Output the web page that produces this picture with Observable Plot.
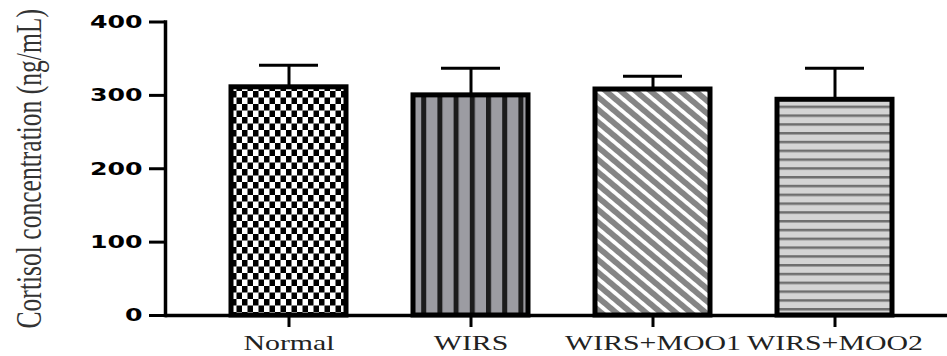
<!DOCTYPE html>
<html><head><meta charset="utf-8">
<script src="https://cdn.jsdelivr.net/npm/d3@7"></script>
<script src="https://cdn.jsdelivr.net/npm/@observablehq/plot@0.6"></script>
<style>body{margin:0;background:#fff} svg{display:block}</style>
</head><body><div id="chart"></div>
<script>
const groups = ["Normal", "WIRS", "WIRS+MOO1", "WIRS+MOO2"];
const means = [311, 300, 308, 294];
const errors = [30, 37, 18, 43];
const patterns = ["url(#pat-checker)", "url(#pat-vstripe)", "url(#pat-diag)", "url(#pat-hstripe)"];
const yTicks = [0, 100, 200, 300, 400];
const yTitle = "Cortisol concentration (ng/mL)";

const data = groups.map((g, i) => ({group: g, mean: means[i], upper: means[i] + errors[i], fill: patterns[i]}));

const chart = Plot.plot({
  width: 947, height: 356,
  marginLeft: 165, marginRight: 0, marginTop: 21.5, marginBottom: 41,
  style: {background: "white"},
  x: {domain: groups, range: [229.5, 892.5], paddingInner: 0.3705, paddingOuter: 0, label: null},
  y: {domain: [0, 400], label: null},
  color: {type: "identity"},
  marks: [
    Plot.barY(data, {x: "group", y: "mean", fill: "fill", stroke: "black", strokeWidth: 5}),
    Plot.ruleX(data, {x: "group", y1: "mean", y2: "upper", stroke: "black", strokeWidth: 3}),
    Plot.tickY(data, {x: "group", y: "upper", stroke: "black", strokeWidth: 3, insetLeft: 28, insetRight: 28}),
    Plot.ruleY([0], {stroke: "black", strokeWidth: 3.5}),
    Plot.frame({anchor: "left", stroke: "black", strokeWidth: 3.5}),
    Plot.axisY({ticks: yTicks, tickSize: 16, tickPadding: 7, tickFormat: d => String(d), fontSize: 18, fontWeight: "bold", fontFamily: "DejaVu Sans", fill: "black", strokeWidth: 3, label: null}),
    Plot.axisX({tickSize: 12, tickPadding: 8, fontSize: 21, fontFamily: "Liberation Serif", fill: "#222", strokeWidth: 3, label: null}),
    Plot.text([yTitle], {text: d => d, frameAnchor: "left", dx: -136, rotate: -90, fontSize: 36, fontFamily: "Liberation Serif", fill: "#333", lineAnchor: "middle", textAnchor: "middle"})
  ]
});

document.getElementById("chart").appendChild(chart);
const svg = d3.select(chart);
svg.insert("defs", ":first-child").html(`
  <pattern id="pat-checker" patternUnits="userSpaceOnUse" width="11" height="13">
    <rect width="11" height="13" fill="white"/>
    <rect width="5.5" height="6.5" fill="black"/>
    <rect x="5.5" y="6.5" width="5.5" height="6.5" fill="black"/>
  </pattern>
  <pattern id="pat-vstripe" patternUnits="userSpaceOnUse" width="16.2" height="10">
    <rect width="16.2" height="10" fill="#9c9ca2"/>
    <rect width="5" height="10" fill="#1c1c1c"/>
  </pattern>
  <pattern id="pat-diag" patternUnits="userSpaceOnUse" width="9.6" height="10" patternTransform="rotate(-50)">
    <rect width="9.6" height="10" fill="white"/>
    <rect width="5.8" height="10" fill="#858585"/>
  </pattern>
  <pattern id="pat-hstripe" patternUnits="userSpaceOnUse" width="10" height="8.8">
    <rect width="10" height="8.8" fill="#d4d4d4"/>
    <rect width="10" height="2.5" fill="#6e6e6e"/>
  </pattern>
`);
function stretch(sel, f) {
  sel.each(function() {
    const L = this.getComputedTextLength();
    this.setAttribute("textLength", L * f);
    this.setAttribute("lengthAdjust", "spacingAndGlyphs");
  });
}
stretch(svg.selectAll('g[aria-label="y-axis tick label"] text'), 1.4);
stretch(svg.selectAll('g[aria-label="x-axis tick label"] text'), 1.42);
stretch(svg.selectAll('text').filter(function() { return this.textContent === yTitle; }), 0.71);
</script>
</body></html>
